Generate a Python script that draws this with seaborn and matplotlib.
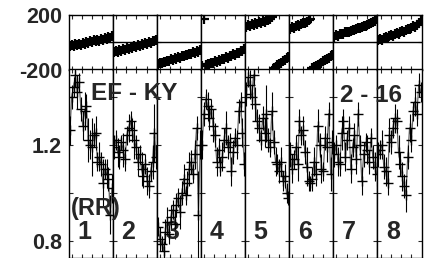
import numpy as np
import pandas as pd
import seaborn as sns
import matplotlib.pyplot as plt

# phase (deg), one list per section
phase_1 = [-28, -20, -30, -15, -22, -10, -18, -5, -12, 2, -6, 8, 0, 14, 6, 20, 12, 26, 18, 34, 24, 40, 32, 48]
phase_2 = [-75, -66, -72, -60, -64, -52, -58, -45, -50, -38, -42, -30, -35, -22, -28, -14, -18, -6, -10, 2, -2, 10, 6, 16]
phase_3 = [-160, -150, -155, -142, -146, -134, -138, -126, -130, -118, -122, -110, -112, -100, -104, -92, -95, -84, -86, -74, -78, -66, -68, -56]
phase_4 = [-172, 168, -170, -160, -163, -150, -154, -141, -144, -131, -134, -121, -124, -110, -113, -100, -102, -88, -90, -76, -78, -64, -66, -50]
phase_5 = [115, 124, 120, 132, 128, 140, 136, 148, 144, 156, 152, 164, 160, 172, 182, -188, -178, -170, -160, -150, -140, -130, -118, -108]
phase_6 = [100, 110, 106, 118, 126, 122, 134, 142, 138, 152, 160, 172, -192, -184, -176, -168, -158, -150, -140, -132, -122, -114, -104, -96]
phase_7 = [40, 52, 46, 58, 64, 60, 72, 78, 74, 86, 92, 88, 100, 106, 102, 114, 120, 116, 130, 136, 140, 150, 158, 170]
phase_8 = [15, 26, 20, 32, 38, 34, 46, 52, 48, 60, 66, 62, 74, 82, 78, 90, 98, 94, 108, 116, 112, 128, 140, 158]

# ratio (RR) and its errors
rr_1 = [1.26, 1.40, 1.44, 1.49, 1.42, 1.46, 1.35, 1.28, 1.34, 1.36, 1.22, 1.20, 1.19, 1.24, 1.25, 1.13, 1.15, 1.12, 1.04, 1.10, 1.08, 1.06, 0.91, 1.02]
rr_2 = [1.19, 1.22, 1.17, 1.15, 1.21, 1.18, 1.14, 1.24, 1.27, 1.30, 1.26, 1.22, 1.19, 1.13, 1.16, 1.10, 1.07, 1.12, 1.05, 1.03, 1.09, 1.13, 1.25, 1.15]
rr_3 = [0.86, 0.81, 0.79, 0.76, 0.84, 0.88, 0.83, 0.90, 0.93, 0.87, 0.95, 0.98, 0.92, 1.00, 1.06, 0.99, 1.04, 1.10, 1.13, 1.08, 1.16, 1.27, 0.91, 1.20]
rr_4 = [1.20, 1.33, 1.39, 1.36, 1.31, 1.35, 1.28, 1.24, 1.13, 1.18, 1.11, 1.15, 1.22, 1.27, 1.19, 1.21, 1.09, 1.17, 1.23, 1.20, 1.34, 1.38, 1.25, 1.12]
rr_5 = [1.41, 1.48, 1.45, 1.40, 1.49, 1.37, 1.30, 1.27, 1.22, 1.31, 1.25, 1.33, 1.22, 1.19, 1.34, 1.21, 1.13, 1.12, 1.09, 1.13, 1.05, 1.07, 1.00, 0.98]
rr_6 = [1.16, 1.10, 1.14, 1.19, 1.12, 1.30, 1.24, 1.26, 1.17, 1.11, 1.05, 1.04, 1.06, 1.13, 1.08, 1.28, 1.20, 1.10, 1.09, 1.23, 1.19, 1.33, 1.08, 1.21]
rr_7 = [1.16, 1.20, 1.13, 1.12, 1.25, 1.30, 1.15, 1.22, 1.27, 1.10, 1.19, 1.24, 1.14, 1.33, 1.20, 1.05, 1.16, 1.21, 1.18, 1.13, 1.23, 1.15, 1.11, 1.08]
rr_8 = [1.16, 1.18, 1.20, 1.11, 1.09, 1.04, 1.24, 1.21, 1.27, 1.31, 1.30, 1.17, 1.12, 1.07, 1.03, 0.99, 1.15, 1.27, 1.22, 1.34, 1.38, 1.33, 1.45, 1.42]

err_1 = [0.06, 0.05, 0.04, 0.05, 0.07, 0.04, 0.05, 0.06, 0.08, 0.05, 0.09, 0.06, 0.12, 0.05, 0.07, 0.04, 0.06, 0.05, 0.10, 0.04, 0.06, 0.05, 0.08, 0.06]
err_2 = [0.05, 0.04, 0.06, 0.05, 0.03, 0.07, 0.05, 0.04, 0.06, 0.04, 0.05, 0.08, 0.05, 0.06, 0.04, 0.07, 0.05, 0.04, 0.06, 0.05, 0.04, 0.07, 0.12, 0.05]
err_3 = [0.04, 0.05, 0.03, 0.04, 0.05, 0.06, 0.04, 0.05, 0.04, 0.06, 0.05, 0.04, 0.07, 0.05, 0.06, 0.04, 0.05, 0.07, 0.05, 0.04, 0.06, 0.05, 0.18, 0.06]
err_4 = [0.06, 0.05, 0.04, 0.06, 0.05, 0.04, 0.07, 0.05, 0.06, 0.05, 0.04, 0.06, 0.05, 0.07, 0.05, 0.04, 0.06, 0.05, 0.04, 0.06, 0.05, 0.04, 0.06, 0.05]
err_5 = [0.05, 0.04, 0.06, 0.05, 0.04, 0.07, 0.05, 0.06, 0.04, 0.05, 0.06, 0.12, 0.05, 0.04, 0.08, 0.05, 0.06, 0.04, 0.05, 0.06, 0.04, 0.05, 0.04, 0.03]
err_6 = [0.05, 0.06, 0.04, 0.05, 0.07, 0.05, 0.04, 0.06, 0.05, 0.08, 0.04, 0.03, 0.05, 0.06, 0.05, 0.07, 0.05, 0.06, 0.04, 0.05, 0.06, 0.05, 0.07, 0.05]
err_7 = [0.05, 0.04, 0.06, 0.05, 0.07, 0.05, 0.06, 0.04, 0.05, 0.06, 0.04, 0.05, 0.06, 0.05, 0.04, 0.06, 0.05, 0.04, 0.06, 0.05, 0.04, 0.05, 0.06, 0.05]
err_8 = [0.05, 0.04, 0.06, 0.05, 0.06, 0.05, 0.07, 0.05, 0.04, 0.06, 0.05, 0.07, 0.05, 0.06, 0.05, 0.07, 0.05, 0.06, 0.05, 0.04, 0.06, 0.05, 0.05, 0.04]

phases = [phase_1, phase_2, phase_3, phase_4, phase_5, phase_6, phase_7, phase_8]
ratios = [rr_1, rr_2, rr_3, rr_4, rr_5, rr_6, rr_7, rr_8]
errors = [err_1, err_2, err_3, err_4, err_5, err_6, err_7, err_8]
section_labels = ["1", "2", "3", "4", "5", "6", "7", "8"]

sns.set_theme(style="ticks", rc={
    "xtick.direction": "in", "ytick.direction": "in",
    "xtick.top": True, "ytick.right": True,
    "xtick.major.size": 3, "ytick.major.size": 3,
    "xtick.major.width": 0.8, "ytick.major.width": 0.8,
    "axes.linewidth": 1.0, "axes.edgecolor": "black",
})
plt.rcParams["font.family"] = ["Liberation Sans", "DejaVu Sans"]
plt.rcParams["font.weight"] = "bold"

fig = plt.figure(figsize=(4.29, 2.58), dpi=100)
gs = fig.add_gridspec(2, 8, left=69 / 429, right=421.5 / 429, top=1 - 15 / 258, bottom=0.0,
                      height_ratios=[54.5, 188.5], wspace=0, hspace=0)

xticks = [0.07, 0.3, 0.53, 0.76]

for i in range(8):
    n = len(phases[i])
    x = (np.arange(n) + 0.5) / n
    df = pd.DataFrame({"x": x, "phase": phases[i], "rr": ratios[i], "err": errors[i]})

    ax_p = fig.add_subplot(gs[0, i])
    ax_p.axhline(0, color="black", lw=1.0, zorder=1)
    sns.scatterplot(data=df, x="x", y="phase", marker="+", s=55, color="black",
                    linewidth=1.6, ax=ax_p, zorder=3)
    ax_p.set_xlim(0, 1)
    ax_p.set_ylim(-200, 200)
    ax_p.set_yticks([-200, 0, 200])
    ax_p.set_xticks(xticks)
    ax_p.set_xticklabels([])
    ax_p.set_xlabel("")
    ax_p.set_ylabel("")

    ax_r = fig.add_subplot(gs[1, i])
    sns.lineplot(data=df, x="x", y="rr", color="0.4", lw=0.9, ax=ax_r, zorder=2)
    ax_r.errorbar(df["x"], df["rr"], yerr=df["err"], fmt="+", color="black",
                  ms=7, mew=1.0, elinewidth=0.8, capsize=0, zorder=3)
    ax_r.set_xlim(0, 1)
    ax_r.set_ylim(0.73, 1.513)
    ax_r.set_yticks([0.8, 1.0, 1.2, 1.4])
    ax_r.set_xticks(xticks)
    ax_r.set_xticklabels([])
    ax_r.set_xlabel("")
    ax_r.set_ylabel("")
    ax_r.text(0.35, 0.837, section_labels[i], ha="center", va="center",
              fontsize=18, fontweight="bold")

    for ax in (ax_p, ax_r):
        ax.tick_params(axis="both", which="major", pad=5, labelsize=15.5)
    if i == 0:
        ax_p.set_yticklabels(["-200", "", "200"], fontweight="bold")
        ax_r.set_yticklabels(["0.8", "", "1.2", ""], fontweight="bold")
    else:
        ax_p.set_yticklabels([])
        ax_r.set_yticklabels([])

fig.text(134 / 429, 1 - 94 / 258, "EF - KY", ha="center", va="center", fontsize=17.5, fontweight="bold")
fig.text(371.5 / 429, 1 - 95 / 258, "2 - 16", ha="center", va="center", fontsize=17.5, fontweight="bold")
fig.text(96 / 429, 1 - 208 / 258, "(RR)", ha="center", va="center", fontsize=17, fontweight="bold")

fig.savefig("out.png", dpi=100)
